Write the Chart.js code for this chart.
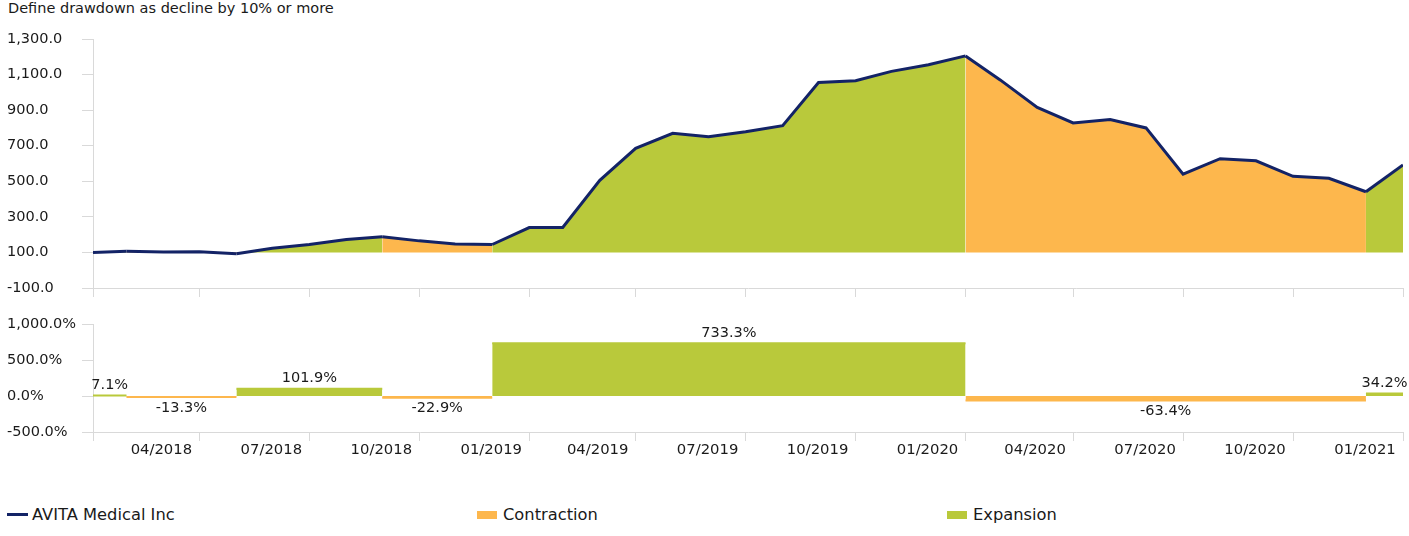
<!DOCTYPE html>
<html>
<head>
<meta charset="utf-8">
<script src="https://cdn.jsdelivr.net/npm/chart.js@4.4.1/dist/chart.umd.min.js"></script>
<style>
  body { margin: 0; background: #fff; font-family: "DejaVu Sans", Verdana, sans-serif; color: #1a1a1a; }
  #wrap { position: relative; width: 1409px; height: 536px; overflow: hidden; }
  #title { position: absolute; left: 8px; top: 0px; font-size: 14.5px; line-height: 17px; }
  canvas { position: absolute; left: 0; }
  .lg { position: absolute; top: 505px; font-size: 16.3px; line-height: 20px; }
  .mk { position: absolute; }
</style>
</head>
<body>
<div id="wrap">
  <div id="title">Define drawdown as decline by 10% or more</div>
  <canvas id="topChart" width="1409" height="300" style="top:0"></canvas>
  <canvas id="botChart" width="1409" height="175" style="top:300px"></canvas>
  <div class="mk" style="left:7px;top:513px;width:21px;height:3px;background:#132366"></div>
  <div class="lg" style="left:32px">AVITA Medical Inc</div>
  <div class="mk" style="left:477px;top:511px;width:20px;height:8px;background:#fdb74d"></div>
  <div class="lg" style="left:503px">Contraction</div>
  <div class="mk" style="left:947px;top:511px;width:20px;height:8px;background:#b9c93b"></div>
  <div class="lg" style="left:973px">Expansion</div>
</div>
<script>
const months = [
  "01/2018", "02/2018", "03/2018", "04/2018", "05/2018", "06/2018", "07/2018", "08/2018", "09/2018",
  "10/2018", "11/2018", "12/2018", "01/2019", "02/2019", "03/2019", "04/2019", "05/2019", "06/2019",
  "07/2019", "08/2019", "09/2019", "10/2019", "11/2019", "12/2019", "01/2020", "02/2020", "03/2020",
  "04/2020", "05/2020", "06/2020", "07/2020", "08/2020", "09/2020", "10/2020", "11/2020", "12/2020",
  "01/2021"
];
const indexValues = [
  100.0, 107.1, 103.0, 104.0, 92.9, 123.0, 145.0, 173.0, 187.6,
  165.0, 148.0, 144.6, 240.0, 240.0, 505.0, 685.0, 770.0, 750.0,
  778.0, 813.0, 1055.0, 1065.0, 1118.0, 1155.0, 1205.0, 1070.0, 915.0,
  828.0, 847.0, 800.0, 540.0, 627.0, 615.0, 528.0, 517.0, 441.0,
  592.0
];
// drawdown / recovery periods (month indexes) and their % change
const periodStart = [0, 1, 4, 8, 11, 24, 35];
const periodEnd = [1, 4, 8, 11, 24, 35, 36];
const periodChange = [7.1, -13.3, 101.9, -22.9, 733.3, -63.4, 34.2];
const tickMonths = [0, 3, 6, 9, 12, 15, 18, 21, 24, 27, 30, 33, 36];
const topTicks = [-100, 100, 300, 500, 700, 900, 1100, 1300];

const NAVY = "#132366";
const GREEN = "#b9c93b";
const ORANGE = "#fdb74d";
const AXIS = "#d9d9d9";
const FONT = "'DejaVu Sans', Verdana, sans-serif";

// month-end dates -> day offsets for a linear time-like axis
function monthEnd(label) {
  const [m, y] = label.split("/").map(Number);
  return Date.UTC(y, m, 0);
}
const t0 = monthEnd(months[0]);
const xs = months.map((m) => Math.round((monthEnd(m) - t0) / 86400000));

function periodOf(i) {
  for (let p = 0; p < periodStart.length; p++) {
    if (i >= periodStart[p] && i < periodEnd[p]) return p;
  }
  return periodStart.length - 1;
}

function xScale(showLabels, height) {
  return {
    type: "linear",
    min: xs[0],
    max: xs[xs.length - 1],
    afterBuildTicks: (s) => { s.ticks = tickMonths.map((i) => ({ value: xs[i] })); },
    afterFit: (s) => { s.height = height; s.paddingLeft = 0; s.paddingRight = 0; },
    border: { display: true, color: AXIS, width: 1 },
    grid: { drawOnChartArea: false, color: AXIS, tickLength: 9 },
    ticks: {
      display: showLabels,
      autoSkip: false,
      maxRotation: 0,
      padding: 0,
      labelOffset: -38,
      color: "#1a1a1a",
      font: { family: FONT, size: 14.8 },
      callback: (v) => {
        const i = xs.indexOf(v);
        return i > 0 ? months[i] : "";
      },
    },
  };
}

function yScale(min, max, step, fmt) {
  return {
    min, max,
    afterBuildTicks: step ? undefined : (s) => { s.ticks = topTicks.map((v) => ({ value: v })); },
    afterFit: (s) => { s.width = 86; s.paddingTop = 0; s.paddingBottom = 0; },
    border: { display: true, color: AXIS, width: 1 },
    grid: { drawOnChartArea: false, color: AXIS, tickLength: 11 },
    ticks: {
      stepSize: step,
      crossAlign: "far",
      color: "#1a1a1a",
      font: { family: FONT, size: 14.5 },
      callback: fmt,
    },
  };
}

const fmt1 = (v) => v.toLocaleString("en-US", { minimumFractionDigits: 1, maximumFractionDigits: 1 });

new Chart(document.getElementById("topChart"), {
  type: "line",
  data: {
    datasets: [{
      data: indexValues.map((v, i) => ({ x: xs[i], y: v })),
      borderColor: NAVY,
      borderWidth: 3,
      pointRadius: 0,
      tension: 0,
      fill: { value: 100 },
      backgroundColor: GREEN,
      segment: {
        backgroundColor: (ctx) => periodChange[periodOf(ctx.p0DataIndex)] >= 0 ? GREEN : ORANGE,
      },
    }],
  },
  options: {
    responsive: false,
    animation: false,
    layout: { padding: { top: 39, right: 6, left: 7, bottom: 0 } },
    plugins: { legend: { display: false }, tooltip: { enabled: false } },
    scales: {
      x: xScale(false, 12),
      y: yScale(-100, 1300, null, fmt1),
    },
  },
});

const barLabels = {
  id: "barLabels",
  afterDatasetsDraw(chart) {
    const { ctx, scales: { x, y } } = chart;
    ctx.save();
    ctx.font = "14.5px " + FONT;
    ctx.fillStyle = "#1a1a1a";
    ctx.textAlign = "center";
    ctx.textBaseline = "middle";
    periodChange.forEach((v, p) => {
      const cx = (x.getPixelForValue(xs[periodStart[p]]) + x.getPixelForValue(xs[periodEnd[p]])) / 2;
      const py = y.getPixelForValue(v);
      ctx.fillText(fmt1(v) + "%", cx, v >= 0 ? py - 10 : py + 11);
    });
    ctx.restore();
  },
};

new Chart(document.getElementById("botChart"), {
  type: "line",
  data: {
    datasets: periodChange.map((v, p) => {
      const c = v >= 0 ? GREEN : ORANGE;
      return {
        data: [{ x: xs[periodStart[p]], y: v }, { x: xs[periodEnd[p]], y: v }],
        borderColor: c,
        backgroundColor: c,
        borderWidth: 2,
        pointRadius: 0,
        fill: "origin",
      };
    }),
  },
  options: {
    responsive: false,
    animation: false,
    layout: { padding: { top: 24, right: 6, left: 7, bottom: 0 } },
    plugins: { legend: { display: false }, tooltip: { enabled: false } },
    scales: {
      x: xScale(true, 43),
      y: yScale(-500, 1000, 500, (v) => fmt1(v) + "%"),
    },
  },
  plugins: [barLabels],
});
</script>
</body>
</html>
